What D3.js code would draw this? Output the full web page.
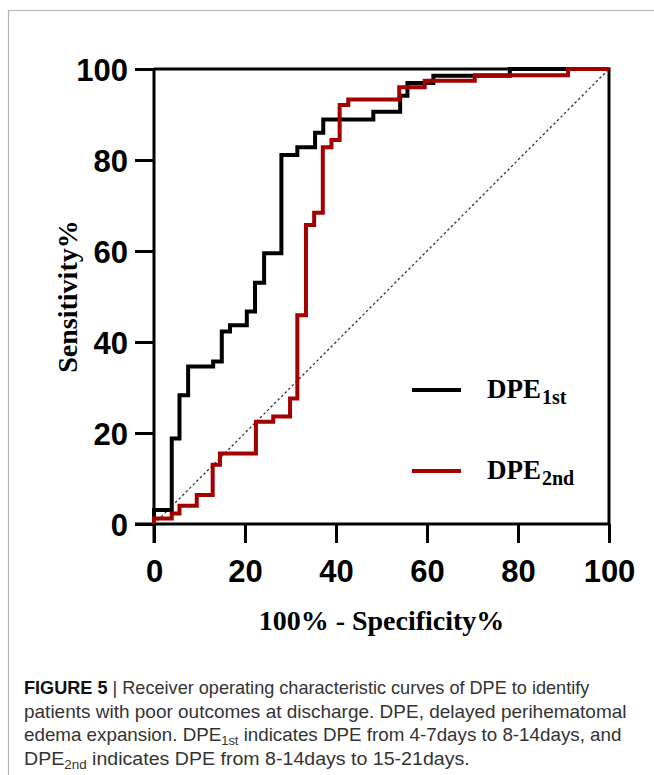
<!DOCTYPE html>
<html><head><meta charset="utf-8">
<script src="https://cdn.jsdelivr.net/npm/d3@7"></script>
<style>body{margin:0;background:#fff}svg{display:block}</style>
</head><body>
<svg id="c" width="654" height="775"></svg>
<script>
// ROC step points (100% - Specificity%, Sensitivity%)
const dpe1stFPR = [0, 0, 3.9, 5.6, 5.6, 7.5, 13, 14.9, 16.7, 20.4, 22.2, 24.2, 28, 31.5, 35.4, 37.2, 48.2, 54.1, 55.7, 61.4, 78.2, 100];
const dpe1stTPR = [0, 3.1, 18.8, 20.3, 28.3, 34.6, 35.7, 42.3, 43.7, 46.7, 53, 59.5, 81.1, 82.8, 86, 88.9, 90.6, 94.1, 96.9, 98.5, 100, 100];
const dpe2ndFPR = [0, 0, 3.9, 5.6, 9.4, 12.9, 14.5, 22.4, 26.2, 29.9, 31.5, 33.4, 35.2, 37.1, 39, 40.8, 42.7, 53.9, 59.5, 70.5, 91, 100];
const dpe2ndTPR = [0, 1.2, 2.3, 4, 6.4, 13, 15.5, 22.5, 23.6, 27.6, 45.9, 65.7, 68.4, 82.8, 84.4, 92.1, 93.3, 96, 97.4, 98.6, 100, 100];
const xTicks = [0, 20, 40, 60, 80, 100];
const yTicks = [0, 20, 40, 60, 80, 100];
const seriesNames = ["DPE", "DPE"];
const seriesSubs = ["1st", "2nd"];
const seriesColors = ["#000000", "#a30000"];
const captionLines = [
  [{t:"FIGURE 5", b:true},{t:" | Receiver operating characteristic curves of DPE to identify"}],
  [{t:"patients with poor outcomes at discharge. DPE, delayed perihematomal"}],
  [{t:"edema expansion. DPE"},{t:"1st", sub:true},{t:" indicates DPE from 4-7days to 8-14days, and"}],
  [{t:"DPE"},{t:"2nd", sub:true},{t:" indicates DPE from 8-14days to 15-21days."}]
];

const svg = d3.select("#c");
const x = d3.scaleLinear().domain([0,100]).range([154,609]);
const y = d3.scaleLinear().domain([0,100]).range([524,69]);

// outer figure border
svg.append("path").attr("d","M8.5,775 V10.5 H654").attr("fill","none").attr("stroke","#b4b4b4").attr("stroke-width",1.2);

// frame (top/right)
svg.append("path").attr("d",`M${x(0)},${y(100)} H${x(100)} V${y(0)}`)
  .attr("fill","none").attr("stroke","#000").attr("stroke-width",3);

// diagonal
svg.append("line").attr("x1",x(0)).attr("y1",y(0)).attr("x2",x(100)).attr("y2",y(100))
  .attr("stroke","#333").attr("stroke-width",1.3).attr("stroke-dasharray","2.5,2.5");

// axes
const xAxis = svg.append("g").attr("transform",`translate(0,${y(0)})`)
  .call(d3.axisBottom(x).tickValues(xTicks).tickSize(19).tickSizeOuter(0).tickPadding(0));
const yAxis = svg.append("g").attr("transform",`translate(${x(0)},0)`)
  .call(d3.axisLeft(y).tickValues(yTicks).tickSize(19).tickSizeOuter(0).tickPadding(7));
[xAxis,yAxis].forEach(g=>{
  g.select(".domain").attr("stroke","#000").attr("stroke-width",3);
  g.selectAll(".tick line").attr("stroke","#000").attr("stroke-width",3);
  g.selectAll(".tick text").attr("fill","#000").style("font-family","'Liberation Sans',Arial,sans-serif")
    .style("font-weight","bold").style("font-size","31px");
});
xAxis.selectAll(".tick text").attr("y",58).attr("dy","0");
yAxis.selectAll(".tick text").attr("dy","0.37em");
xAxis.select(".domain").attr("d",`M${x(0)-19},0H${x(100)}`);
yAxis.select(".domain").attr("d",`M0,${y(0)+19}V${y(100)}`);

// curves
const line = d3.line().x(d=>x(d[0])).y(d=>y(d[1])).curve(d3.curveStepAfter);
const s1 = dpe1stFPR.map((v,i)=>[v,dpe1stTPR[i]]);
const s2 = dpe2ndFPR.map((v,i)=>[v,dpe2ndTPR[i]]);
[s1,s2].forEach((s,i)=>{
  svg.append("path").datum(s).attr("d",line).attr("fill","none")
    .attr("stroke",seriesColors[i]).attr("stroke-width",4).attr("stroke-linejoin","miter");
});

// legend
const legY = [390, 471];
seriesNames.forEach((n,i)=>{
  svg.append("line").attr("x1",412).attr("x2",461).attr("y1",legY[i]).attr("y2",legY[i])
    .attr("stroke",seriesColors[i]).attr("stroke-width",4);
  const t = svg.append("text").attr("x",487).attr("y",legY[i]+8)
    .style("font-family","'Liberation Serif','Times New Roman',serif").style("font-weight","bold")
    .style("font-size","27px").attr("fill","#000");
  t.append("tspan").text(n);
  t.append("tspan").attr("dy",6).attr("dx",1).style("font-size","20px").text(seriesSubs[i]);
});

// axis titles
svg.append("text").attr("x",(x(0)+x(100))/2).attr("y",630).attr("text-anchor","middle")
  .style("font-family","'Liberation Serif','Times New Roman',serif").style("font-weight","bold")
  .style("font-size","28px").text("100% - Specificity%");
svg.append("text").attr("transform",`translate(77,${(y(0)+y(100))/2}) rotate(-90)`).attr("text-anchor","middle")
  .style("font-family","'Liberation Serif','Times New Roman',serif").style("font-weight","bold")
  .style("font-size","28px").text("Sensitivity%");

// caption
const capBase = [694, 717.5, 741, 764.5];
const capWidth = [566, 603, 598, 446];
captionLines.forEach((parts,i)=>{
  const t = svg.append("text").attr("x",0).attr("y",0)
    .style("font-family","'Liberation Sans',Arial,sans-serif").style("font-size","17.5px").attr("fill","#333");
  parts.forEach((p,j)=>{
    const ts = t.append("tspan").text(p.t);
    if(p.b) ts.style("font-weight","bold").attr("fill","#111");
    if(p.sub) ts.attr("dy",4).style("font-size","12px");
    if(j>0 && parts[j-1].sub) ts.attr("dy",-4);
  });
  const w = t.node().getComputedTextLength();
  t.attr("transform",`translate(24,${capBase[i]}) scale(${capWidth[i]/w},1)`);
});
</script>
</body></html>
